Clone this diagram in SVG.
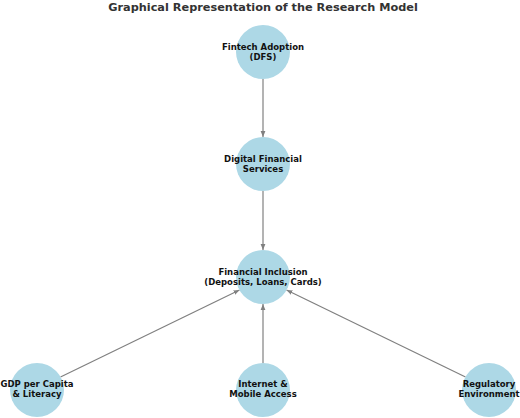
<svg xmlns="http://www.w3.org/2000/svg" width="520" height="418" viewBox="0 0 520 418">
<style>
.node{fill:#add8e6}
.lbl{font-family:"DejaVu Sans",sans-serif;font-weight:bold;font-size:8.5px;fill:#111;text-anchor:middle}
.edge{stroke:#808080;stroke-width:1.2;fill:none;marker-end:url(#ah)}
.title{font-family:"DejaVu Sans",sans-serif;font-weight:bold;font-size:11.3px;fill:#333;text-anchor:middle}
</style>
<defs>
<marker id="ah" viewBox="0 0 10 10" refX="10" refY="5" markerWidth="6" markerHeight="6" orient="auto" markerUnits="userSpaceOnUse">
<path d="M0,1 L10,5 L0,9 z" fill="#808080"/>
</marker>
</defs>
<rect width="520" height="418" fill="#fff"/>
<text class="title" x="263" y="11">Graphical Representation of the Research Model</text>
<g id="connectors">
<line class="edge" x1="263" y1="79" x2="263" y2="137"/>
<line class="edge" x1="263" y1="191" x2="263" y2="250"/>
<line class="edge" x1="263" y1="363" x2="263" y2="304"/>
<line class="edge" x1="60.5" y1="377" x2="239.5" y2="290"/>
<line class="edge" x1="465.5" y1="377" x2="286.5" y2="290"/>
</g>
<g id="n1"><circle class="node" cx="263" cy="52" r="27"/><text class="lbl" x="263" y="50">Fintech Adoption</text><text class="lbl" x="263" y="59.5">(DFS)</text></g>
<g id="n2"><circle class="node" cx="263" cy="164" r="27"/><text class="lbl" x="263" y="162">Digital Financial</text><text class="lbl" x="263" y="172">Services</text></g>
<g id="n3"><circle class="node" cx="263" cy="277" r="27"/><text class="lbl" x="263" y="275">Financial Inclusion</text><text class="lbl" x="263" y="284.5">(Deposits, Loans, Cards)</text></g>
<g id="n4"><circle class="node" cx="37" cy="390" r="27"/><text class="lbl" x="37" y="387">GDP per Capita</text><text class="lbl" x="37" y="397">&amp; Literacy</text></g>
<g id="n5"><circle class="node" cx="263" cy="390" r="27"/><text class="lbl" x="263" y="387">Internet &amp;</text><text class="lbl" x="263" y="397">Mobile Access</text></g>
<g id="n6"><circle class="node" cx="489" cy="390" r="27"/><text class="lbl" x="489" y="387">Regulatory</text><text class="lbl" x="489" y="397">Environment</text></g>
</svg>
